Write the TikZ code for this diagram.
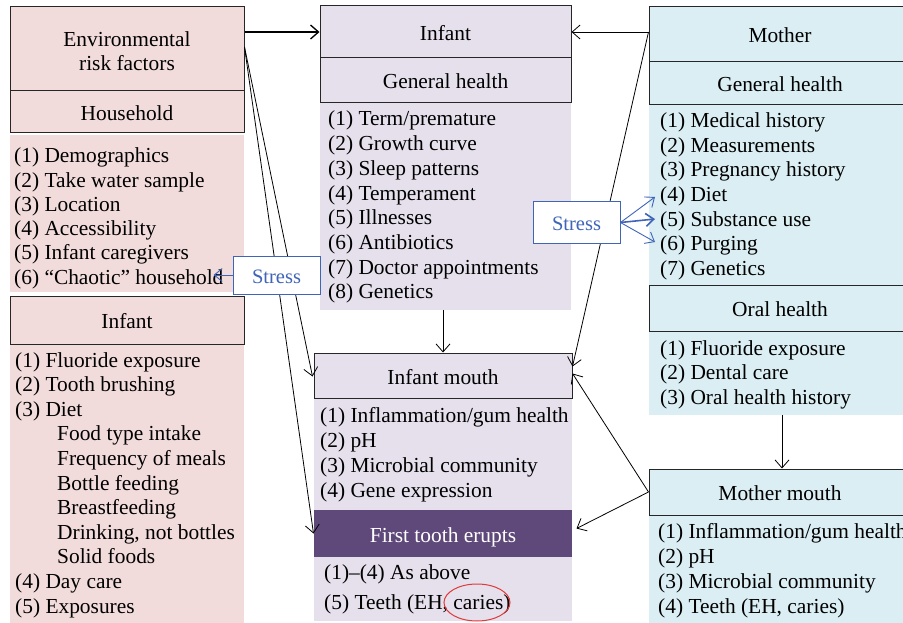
\documentclass[tikz,border=0pt]{standalone}
\usepackage{fontspec}
\setmainfont{Liberation Serif}
\usetikzlibrary{arrows.meta,calc,shapes.geometric}
\definecolor{pinkbg}{HTML}{F2DCDB}
\definecolor{lavbg}{HTML}{E5E0EC}
\definecolor{bluebg}{HTML}{DAEEF3}
\definecolor{darkpurple}{HTML}{5F497A}
\definecolor{stressblue}{HTML}{4064B8}
\definecolor{ringred}{HTML}{E03A3A}
\newcommand\itemlist[5]{%
  \foreach \t [count=\i] in {#5} {\node[item] (#1-\i) at (#2,{#3+(\i-1)*#4}) {\t};}}
\begin{document}
\begin{tikzpicture}[x=1pt,y=-1pt,
  hdr/.style={draw=black!85, line width=1pt, rectangle, inner sep=0pt, align=center, text height=17pt, text depth=0pt, font=\fontsize{21.4}{24}\selectfont},
  bg/.style={rectangle, inner sep=0pt, draw=none},
  item/.style={anchor=base west, inner sep=0pt, font=\fontsize{21.4}{24}\selectfont},
  arr/.style={-{Straight Barb[length=8pt,width=14pt]}, line width=0.8pt},
  sarr/.style={-{Straight Barb[length=8pt,width=13pt]}, line width=0.9pt, draw=stressblue},
  stressbox/.style={draw=stressblue, fill=white, line width=1pt, inner sep=0pt, text=stressblue, text height=16pt, text depth=0pt, font=\fontsize{20.5}{24}\selectfont},
  lw/.style={minimum width=234pt}, cw/.style={minimum width=251pt}, cw2/.style={minimum width=258pt}, rw/.style={minimum width=262pt}
]
\useasboundingbox (0,0) rectangle (903,623);
\clip (0,0) rectangle (903,623);

% backgrounds
\node[bg, lw, fill=pinkbg, minimum height=157pt] (hlist) at (127,213.5) {};
\node[bg, lw, fill=pinkbg, minimum height=281pt] (llist) at (127,484.5) {};
\node[bg, cw, fill=lavbg, minimum height=207pt] (ilist) at (445.5,206.5) {};
\node[bg, cw2, fill=lavbg, minimum height=112pt] (imlist) at (443,454) {};
\node[bg, cw2, fill=lavbg, minimum height=64pt] (tlist) at (443,589) {};
\node[bg, rw, fill=bluebg, minimum height=180pt] (mlist) at (780,195) {};
\node[bg, rw, fill=bluebg, minimum height=84pt] (olist) at (780,373) {};
\node[bg, rw, fill=bluebg, minimum height=110pt] (mmlist) at (780,570) {};

% headers
\node[hdr, lw, fill=pinkbg, minimum height=84pt, text height=44pt, text depth=0pt] (env) at (127,49) {Environmental\\risk factors};
\node[hdr, lw, fill=pinkbg, minimum height=42pt] (house) at (127,112) {Household};
\node[hdr, lw, fill=pinkbg, minimum height=48pt] (linf) at (127,320) {Infant};
\node[hdr, cw, fill=lavbg, minimum height=52pt] (inf) at (445.5,32) {Infant};
\node[hdr, cw, fill=lavbg, minimum height=45pt] (igh) at (445.5,80.5) {General health};
\node[hdr, cw2, fill=lavbg, minimum height=45pt] (imouth) at (443,375.5) {Infant mouth};
\node[hdr, cw2, draw=none, fill=darkpurple, text=white, minimum height=47pt] (tooth) at (443,533.5) {First tooth erupts};
\node[hdr, rw, fill=bluebg, minimum height=55pt] (mom) at (780,34.5) {Mother};
\node[hdr, rw, fill=bluebg, minimum height=43pt] (mgh) at (780,83.5) {General health};
\node[hdr, rw, fill=bluebg, minimum height=46pt] (oral) at (780,308) {Oral health};
\node[hdr, rw, fill=bluebg, minimum height=46pt] (mmouth) at (780,492) {Mother mouth};

% lists
\itemlist{h}{14}{163}{24.2}{(1) Demographics,(2) Take water sample,(3) Location,(4) Accessibility,(5) Infant caregivers,(6) “Chaotic” household}
\itemlist{l}{15}{367}{24.6}{(1) Fluoride exposure,(2) Tooth brushing,(3) Diet,\hspace*{42pt}Food type intake,\hspace*{42pt}Frequency of meals,\hspace*{42pt}Bottle feeding,\hspace*{42pt}Breastfeeding,{\hspace*{42pt}Drinking, not bottles},\hspace*{42pt}Solid foods,(4) Day care,(5) Exposures}
\itemlist{i}{328}{126}{24.7}{(1) Term/premature,(2) Growth curve,(3) Sleep patterns,(4) Temperament,(5) Illnesses,(6) Antibiotics,(7) Doctor appointments,(8) Genetics}
\itemlist{im}{320}{422}{25}{(1) Inflammation/gum health,(2) pH,(3) Microbial community,(4) Gene expression}
\itemlist{t}{324}{579}{30.5}{(1)–(4) As above,{(5) Teeth (EH, caries)}}
\itemlist{m}{660}{128}{24.5}{(1) Medical history,(2) Measurements,(3) Pregnancy history,(4) Diet,(5) Substance use,(6) Purging,(7) Genetics}
\itemlist{o}{660}{355}{24.5}{(1) Fluoride exposure,(2) Dental care,(3) Oral health history}
\itemlist{mm}{658}{538.5}{25}{(1) Inflammation/gum health,(2) pH,(3) Microbial community,{(4) Teeth (EH, caries)}}

% connectors
\draw[arr, line width=1.3pt] (env.east |- inf.west) -- (inf.west);
\draw[arr] (mom.west |- inf.east) -- (inf.east);
\draw[arr] ($(env.east)+(0,-2)$) -- ($(imouth.west)+(-1,1)$);
\draw[arr] ($(env.east)+(0,-2)$) -- (tooth.west);
\draw[arr] (imouth.north |- ilist.south) -- (imouth.north);
\draw[arr] (mom.west |- inf.east) -- ($(imouth.east)+(0,-9)$);
\draw[arr] (mmouth.west) -- ($(imouth.east)+(0,-2)$);
\draw[arr] (mmouth.west) -- ($(tooth.east)+(4,-5)$);
\coordinate (ocol) at (782,0);
\draw[arr] (ocol |- olist.south) -- (ocol |- mmouth.north);

% stress
\node[stressbox, minimum width=87pt, minimum height=38pt] (stressL) at (276.5,275) {Stress};
\node[stressbox, minimum width=87pt, minimum height=41pt] (stressR) at (576.5,222.5) {Stress};
\coordinate (sL) at ($(stressL.west)+(-19,0)$);
\draw[sarr] (stressL.west) -- (sL);
\coordinate (sR1) at (655,197);
\coordinate (sR2) at (655,219);
\coordinate (sR3) at (655,242);
\draw[sarr] (stressR.east) -- (sR1);
\draw[sarr, line width=1.6pt] (stressR.east) -- (sR2);
\draw[sarr] (stressR.east) -- (sR3);

% ring
\node[draw=ringred, line width=1pt, ellipse, inner sep=0pt, minimum width=66pt, minimum height=37pt] (ring) at (477,602.5) {};
\end{tikzpicture}
\end{document}
